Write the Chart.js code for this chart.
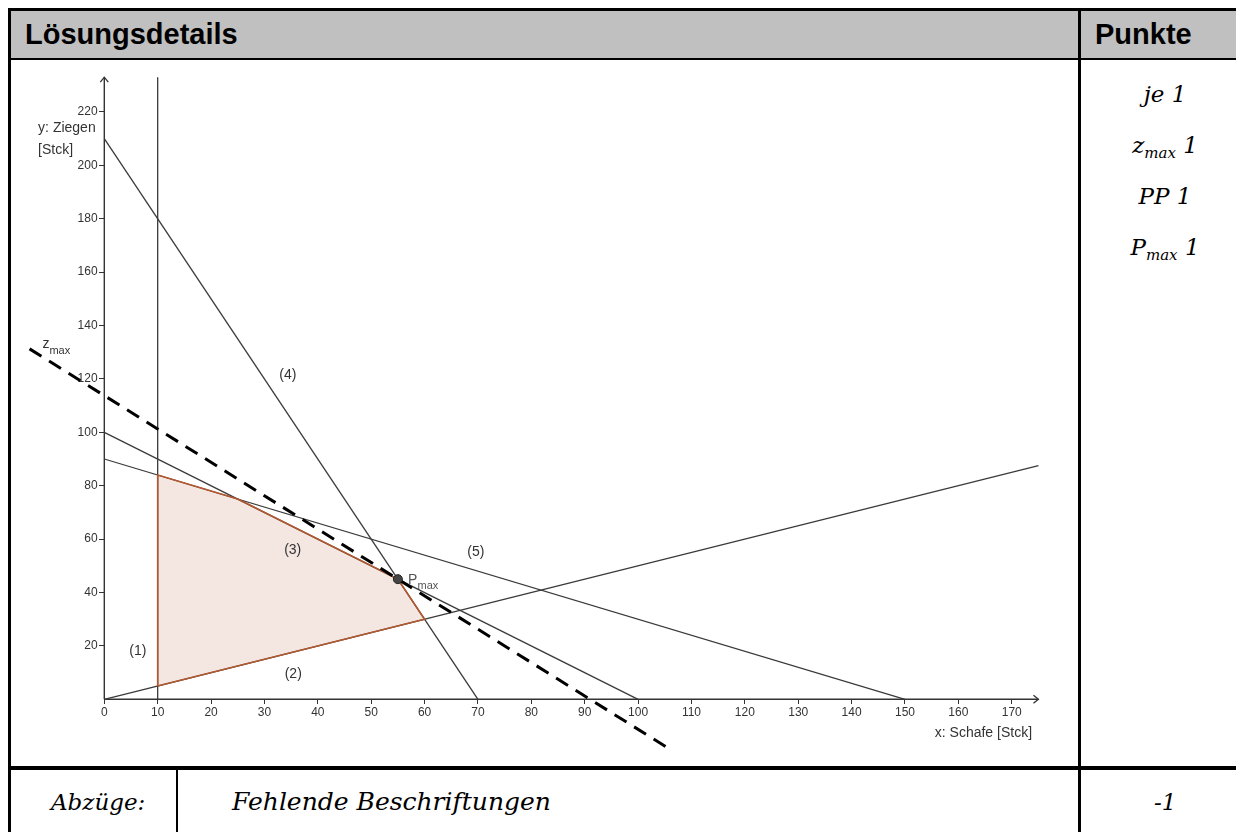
<!DOCTYPE html>
<html lang="de">
<head>
<meta charset="utf-8">
<title>Lösungsdetails</title>
<script src="https://cdn.jsdelivr.net/npm/chart.js@4.4.1/dist/chart.umd.min.js"></script>
<style>
  html, body { margin: 0; padding: 0; background: #fff; }
  body { width: 1236px; height: 832px; position: relative; overflow: hidden; font-family: "Liberation Sans", Arial, sans-serif; }
  .bar { position: absolute; background: #000; }
  #head { position: absolute; left: 11px; top: 11px; width: 1225px; height: 47px; background: #c0c0c0; }
  .hd { position: absolute; font-weight: bold; font-size: 29px; line-height: 29px; white-space: nowrap; }
  .it { position: absolute; font-family: "DejaVu Serif", serif; font-style: italic; font-size: 23px; line-height: 23px; white-space: nowrap; }
  .it sub { font-size: 15px; vertical-align: baseline; position: relative; top: 5px; }
  .pts { left: 1081px; width: 168px; text-align: center; }
  #plot { position: absolute; left: 11px; top: 61px; width: 1067px; height: 705px; }
</style>
</head>
<body>
<div id="head"></div>
<div class="bar" style="left:8px;top:8px;width:1228px;height:3px"></div>
<div class="bar" style="left:8px;top:8px;width:3px;height:824px"></div>
<div class="bar" style="left:11px;top:58px;width:1225px;height:2px"></div>
<div class="bar" style="left:1078px;top:11px;width:3px;height:821px"></div>
<div class="bar" style="left:11px;top:766px;width:1225px;height:4px"></div>
<div class="bar" style="left:176px;top:770px;width:2px;height:62px"></div>

<div class="hd" style="left:25px;top:20px">Lösungsdetails</div>
<div class="hd" style="left:1095px;top:20px">Punkte</div>

<div class="it pts" style="top:83px">je 1</div>
<div class="it pts" style="top:134px">z<sub>max</sub> 1</div>
<div class="it pts" style="top:185px">PP 1</div>
<div class="it pts" style="top:236px">P<sub>max</sub> 1</div>

<div class="it" style="left:51px;top:791px">Abzüge:</div>
<div class="it" style="left:232px;top:789px;font-size:25px;line-height:25px">Fehlende Beschriftungen</div>
<div class="it" style="left:1154px;top:791px">-1</div>

<div id="plot"><canvas id="chart" width="1067" height="705"></canvas></div>

<script>
"use strict";
window.addEventListener("DOMContentLoaded", init);

// x: Schafe, y: Ziegen
const xTicks = [0, 10, 20, 30, 40, 50, 60, 70, 80, 90, 100, 110, 120, 130, 140, 150, 160, 170];
const yTicks = [20, 40, 60, 80, 100, 120, 140, 160, 180, 200, 220];

// Nebenbedingungen (1) - (5), Endpunkte [x, y]
const line1 = [[10, 0], [10, 233]];
const line2 = [[0, 0], [175, 87.5]];
const line3 = [[0, 100], [100, 0]];
const line4 = [[0, 210], [70, 0]];
const line5 = [[0, 90], [150, 0]];

// Zielfunktion durch Pmax
const zmaxLine = [[-14, 131.25], [105.6, -18.25]];
const pMax = [[55, 45]];

// Planungspolygon
const polyTop = [[10, 84], [25, 75], [55, 45], [60, 30]];
const polyBottom = [[10, 5], [60, 30]];
const polyEdge = [[10, 5], [10, 84], [25, 75], [55, 45], [60, 30], [10, 5]];

// Achsen
const xAxisLine = [[0, 0], [175, 0]];
const yAxisLine = [[0, 0], [0, 233]];

const notes = [
  { text: "(1)", x: 6.3, y: 18.2 },
  { text: "(2)", x: 35.4, y: 9.5 },
  { text: "(3)", x: 35.3, y: 55.9 },
  { text: "(4)", x: 34.4, y: 121.5 },
  { text: "(5)", x: 69.6, y: 55.3 }
];

const FONT = "'Liberation Sans', Arial, sans-serif";
const LINE = "#3a3a3a";

// Ursprung und Massstab im Canvas (px pro Einheit)
const X0 = 93.3, XS = 5.338;
const Y0 = 638.3, YS = 2.67;

function pts(arr) {
  return arr.map(p => ({ x: p[0], y: p[1] }));
}

function lineSet(arr, color, width, order) {
  return {
    data: pts(arr),
    borderColor: color,
    borderWidth: width,
    pointRadius: 0,
    showLine: true,
    fill: false,
    tension: 0,
    order: order
  };
}

const extras = {
  id: "extras",
  afterDatasetsDraw(chart) {
    const ctx = chart.ctx;
    const x = chart.scales.x;
    const y = chart.scales.y;
    ctx.save();

    // Pfeilspitzen
    ctx.strokeStyle = "#333";
    ctx.lineWidth = 1.3;
    let ax = x.getPixelForValue(175), ay = y.getPixelForValue(0);
    ctx.beginPath();
    ctx.moveTo(ax - 5, ay - 4);
    ctx.lineTo(ax, ay);
    ctx.lineTo(ax - 5, ay + 4);
    ctx.stroke();
    ax = x.getPixelForValue(0);
    ay = y.getPixelForValue(233);
    ctx.beginPath();
    ctx.moveTo(ax - 4, ay + 5);
    ctx.lineTo(ax, ay);
    ctx.lineTo(ax + 4, ay + 5);
    ctx.stroke();

    ctx.fillStyle = "#333";
    ctx.font = "14px " + FONT;
    ctx.textAlign = "center";
    ctx.textBaseline = "middle";
    notes.forEach(n => {
      ctx.fillText(n.text, x.getPixelForValue(n.x), y.getPixelForValue(n.y));
    });

    // Achsenbeschriftungen
    ctx.textAlign = "left";
    ctx.fillText("y: Ziegen", x.getPixelForValue(-12.4), y.getPixelForValue(214));
    ctx.fillText("[Stck]", x.getPixelForValue(-12.4), y.getPixelForValue(205.7));
    ctx.textAlign = "right";
    ctx.fillText("x: Schafe [Stck]", x.getPixelForValue(173.8), y.getPixelForValue(-12.6));

    // z_max und P_max
    ctx.textAlign = "left";
    let zx = x.getPixelForValue(-11.6);
    ctx.fillText("z", zx, y.getPixelForValue(133));
    ctx.font = "11px " + FONT;
    ctx.fillText("max", zx + 7, y.getPixelForValue(130.3));

    ctx.fillStyle = "#555";
    ctx.font = "14px " + FONT;
    let px = x.getPixelForValue(56.9);
    ctx.fillText("P", px, y.getPixelForValue(44.8));
    ctx.font = "11px " + FONT;
    ctx.fillText("max", px + 9.5, y.getPixelForValue(42.3));

    ctx.restore();
  }
};

function noPad(s) {
  s.paddingLeft = 0;
  s.paddingRight = 0;
  s.paddingTop = 0;
  s.paddingBottom = 0;
}

function makeChart() {
  const ctx = document.getElementById("chart");

  const top = lineSet(polyTop, "rgba(0,0,0,0)", 0, 20);
  top.fill = "+1";
  top.backgroundColor = "#f4e7e2";
  const bottom = lineSet(polyBottom, "rgba(0,0,0,0)", 0, 21);

  const dash = lineSet(zmaxLine, "#000", 3, 1);
  dash.borderDash = [14, 9];

  const point = {
    data: pts(pMax),
    pointRadius: 4.5,
    pointBackgroundColor: "#454545",
    pointBorderColor: "#222",
    pointBorderWidth: 1,
    showLine: false,
    order: 0
  };

  const chart = new Chart(ctx, {
    type: "scatter",
    data: {
      datasets: [
        top,
        bottom,
        lineSet(xAxisLine, "#333", 1.4, 10),
        lineSet(yAxisLine, "#333", 1.4, 10),
        lineSet(line1, LINE, 1.3, 8),
        lineSet(line2, LINE, 1.3, 8),
        lineSet(line3, LINE, 1.3, 8),
        lineSet(line4, LINE, 1.3, 8),
        lineSet(line5, LINE, 1.3, 8),
        lineSet(polyEdge, "#b4582f", 1.6, 4),
        dash,
        point
      ]
    },
    options: {
      responsive: false,
      animation: false,
      layout: { padding: 0 },
      plugins: { legend: { display: false }, tooltip: { enabled: false } },
      scales: {
        x: {
          type: "linear",
          min: -17.48,
          max: 182.41,
          position: { y: 0 },
          afterBuildTicks: s => { s.ticks = xTicks.map(v => ({ value: v })); },
          afterFit: noPad,
          border: { display: false },
          grid: { drawOnChartArea: false, drawTicks: true, tickLength: 5, color: "#333", lineWidth: 1 },
          ticks: { color: "#333", font: { family: FONT, size: 12 }, padding: 1, maxRotation: 0, autoSkip: false }
        },
        y: {
          type: "linear",
          min: -24.98,
          max: 239.06,
          position: { x: 0 },
          afterBuildTicks: s => { s.ticks = yTicks.map(v => ({ value: v })); },
          afterFit: noPad,
          border: { display: false },
          grid: { drawOnChartArea: false, drawTicks: true, tickLength: 5, color: "#333", lineWidth: 1 },
          ticks: {
            color: "#333",
            font: { family: FONT, size: 12 },
            autoSkip: false,
            callback: v => v + "  "
          }
        }
      }
    },
    plugins: [extras]
  });

  // Wertebereich so waehlen, dass der Massstab zum Original passt
  for (let i = 0; i < 2; i++) {
    const a = chart.chartArea;
    chart.options.scales.x.min = (a.left - X0) / XS;
    chart.options.scales.x.max = (a.right - X0) / XS;
    chart.options.scales.y.max = (Y0 - a.top) / YS;
    chart.options.scales.y.min = (Y0 - a.bottom) / YS;
    chart.update();
  }
}

function init() {
  makeChart();
}
</script>
</body>
</html>
